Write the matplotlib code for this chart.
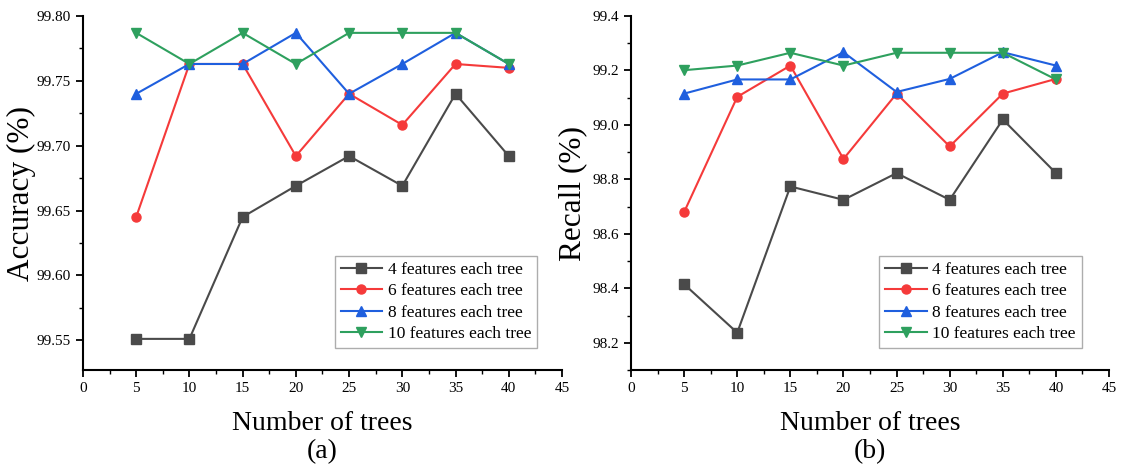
import matplotlib.pyplot as plt
from matplotlib.ticker import MultipleLocator, FormatStrFormatter

plt.rcParams['font.family'] = ['Liberation Serif', 'DejaVu Serif']

trees = [5, 10, 15, 20, 25, 30, 35, 40]
labels = ['4 features each tree', '6 features each tree',
          '8 features each tree', '10 features each tree']

acc_4 = [99.551, 99.551, 99.645, 99.669, 99.692, 99.669, 99.740, 99.692]
acc_6 = [99.645, 99.763, 99.763, 99.692, 99.740, 99.716, 99.763, 99.760]
acc_8 = [99.740, 99.763, 99.763, 99.787, 99.740, 99.763, 99.787, 99.763]
acc_10 = [99.787, 99.763, 99.787, 99.763, 99.787, 99.787, 99.787, 99.763]

rec_4 = [98.415, 98.237, 98.774, 98.725, 98.823, 98.725, 99.020, 98.823]
rec_6 = [98.680, 99.103, 99.218, 98.875, 99.115, 98.921, 99.115, 99.169]
rec_8 = [99.115, 99.167, 99.167, 99.267, 99.121, 99.169, 99.267, 99.218]
rec_10 = [99.201, 99.218, 99.265, 99.218, 99.265, 99.265, 99.265, 99.167]

colors = ['#4a4a4a', '#f53a3a', '#1f5fde', '#2ea05e']
markers = ['s', 'o', '^', 'v']

fig = plt.figure(figsize=(11.24, 4.68), dpi=100)
ax1 = fig.add_axes([0.0738, 0.2094, 0.4262, 0.7564])
ax2 = fig.add_axes([0.5614, 0.2094, 0.4253, 0.7564])


def draw(ax, series, ylabel, sub, ylim, major, minor, fmt, ylab_x, leg_x):
    for vals, c, m, lab in zip(series, colors, markers, labels):
        ax.plot(trees, vals, color=c, marker=m, markersize=6.5, lw=1.5, label=lab)
    ax.set_xlim(0, 45)
    ax.set_ylim(*ylim)
    ax.xaxis.set_major_locator(MultipleLocator(5))
    ax.xaxis.set_minor_locator(MultipleLocator(2.5))
    ax.yaxis.set_major_locator(MultipleLocator(major))
    ax.yaxis.set_minor_locator(MultipleLocator(minor))
    ax.yaxis.set_major_formatter(FormatStrFormatter(fmt))
    ax.spines['top'].set_visible(False)
    ax.spines['right'].set_visible(False)
    ax.spines['left'].set_linewidth(1.5)
    ax.spines['bottom'].set_linewidth(1.5)
    ax.tick_params(which='major', direction='out', length=5, width=1.3, labelsize=11)
    ax.tick_params(which='minor', direction='out', length=3, width=1.0)
    ax.set_ylabel(ylabel, fontsize=22.5)
    ax.yaxis.set_label_coords(ylab_x, 0.5)
    ax.set_xlabel('Number of trees\n' + sub, fontsize=20, labelpad=12, linespacing=1.15)
    leg = ax.legend(loc='lower right', bbox_to_anchor=(leg_x, 0.062), fontsize=12.5,
                    frameon=True, fancybox=False, handlelength=2.4,
                    handletextpad=0.3, borderpad=0.35, labelspacing=0.3,
                    borderaxespad=0)
    leg.get_frame().set_edgecolor('#999999')
    leg.get_frame().set_linewidth(1.0)


draw(ax1, [acc_4, acc_6, acc_8, acc_10], 'Accuracy (%)', '(a)',
     (99.527, 99.80), 0.05, 0.025, '%.2f', -0.098, 0.948)
draw(ax2, [rec_4, rec_6, rec_8, rec_10], 'Recall (%)', '(b)',
     (98.1, 99.4), 0.2, 0.1, '%.1f', -0.092, 0.943)

fig.savefig('out.png', dpi=100)
